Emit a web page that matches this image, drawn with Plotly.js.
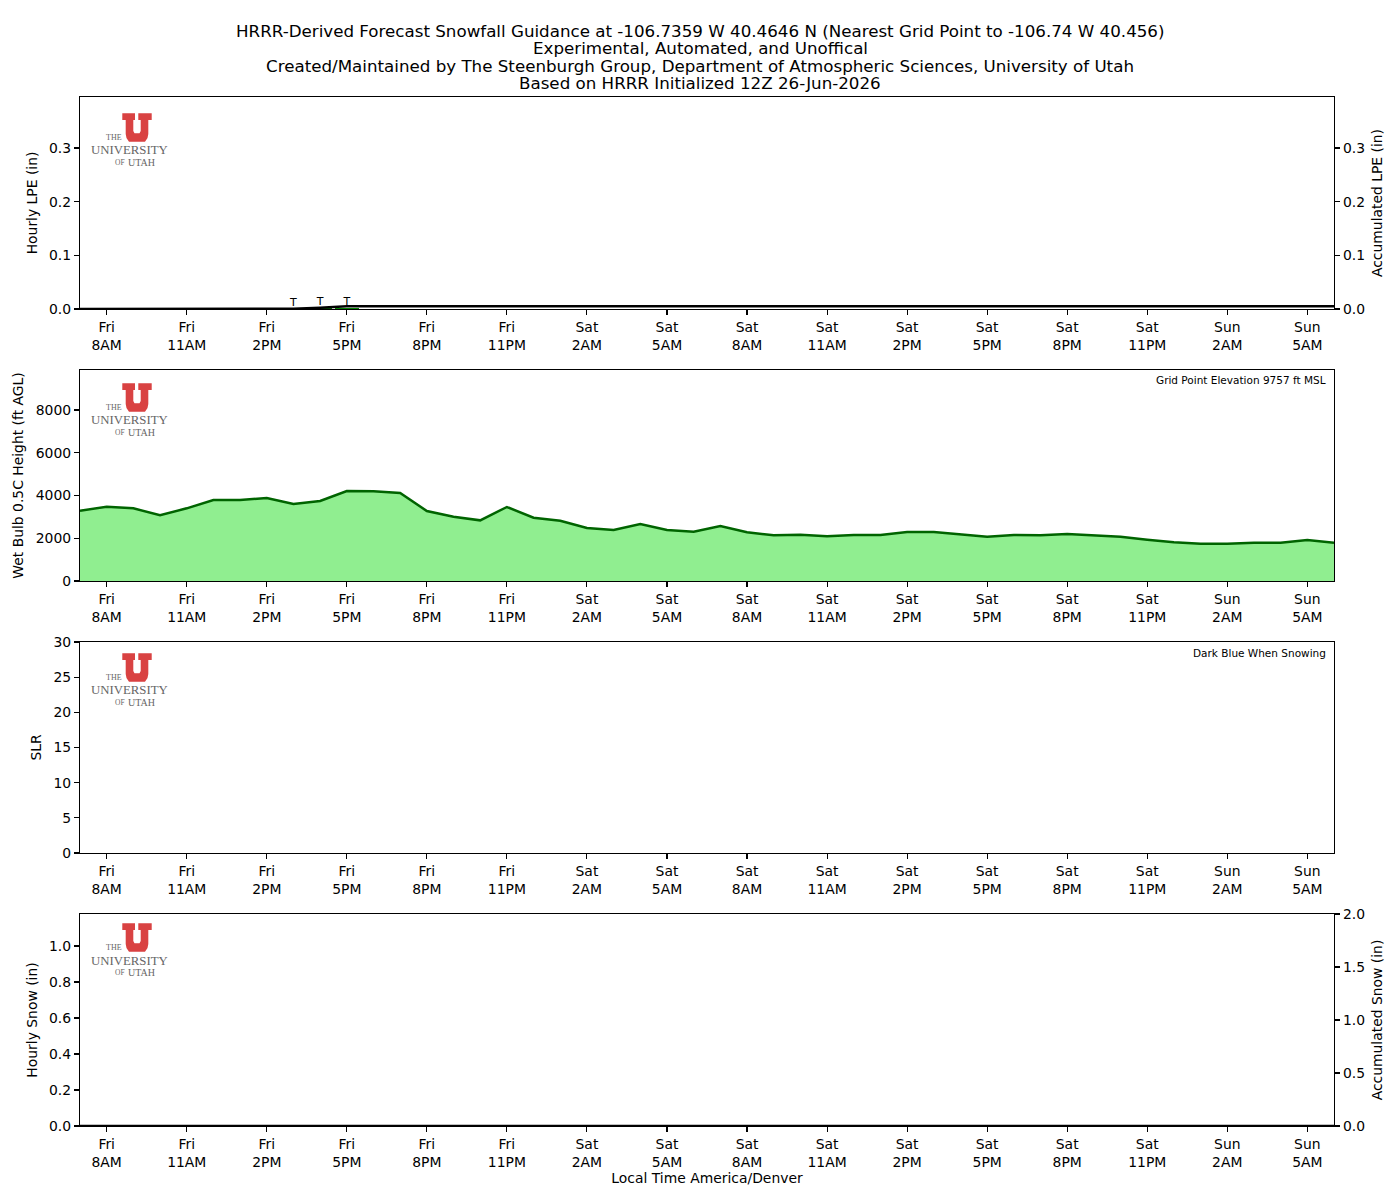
<!DOCTYPE html>
<html>
<head>
<meta charset="utf-8">
<script src="https://cdn.plot.ly/plotly-3.0.1.min.js"></script>
<style>html,body{margin:0;padding:0;background:#fff;}</style>
</head>
<body>
<div id="chart" style="width:1400px;height:1200px;"></div>
<script>
// ---------------- DATA ----------------
const startTime = '2026-06-26T07:00:00';
const nHours = 48;
const titleLines = [
  'HRRR-Derived Forecast Snowfall Guidance at -106.7359 W 40.4646 N (Nearest Grid Point to -106.74 W 40.456)',
  'Experimental, Automated, and Unoffical',
  'Created/Maintained by The Steenburgh Group, Department of Atmospheric Sciences, University of Utah',
  'Based on HRRR Initialized 12Z 26-Jun-2026'
];
const tickTimes = ['2026-06-26 08:00','2026-06-26 11:00','2026-06-26 14:00','2026-06-26 17:00','2026-06-26 20:00','2026-06-26 23:00',
  '2026-06-27 02:00','2026-06-27 05:00','2026-06-27 08:00','2026-06-27 11:00','2026-06-27 14:00','2026-06-27 17:00','2026-06-27 20:00','2026-06-27 23:00',
  '2026-06-28 02:00','2026-06-28 05:00'];
const tickLabels = ['Fri<br>8AM','Fri<br>11AM','Fri<br>2PM','Fri<br>5PM','Fri<br>8PM','Fri<br>11PM',
  'Sat<br>2AM','Sat<br>5AM','Sat<br>8AM','Sat<br>11AM','Sat<br>2PM','Sat<br>5PM','Sat<br>8PM','Sat<br>11PM',
  'Sun<br>2AM','Sun<br>5AM'];
// hourly liquid precip equivalent (in), 7AM Fri .. 6AM Sun
const hourlyLPE = [0,0,0,0,0,0,0,0,0.0005,0.002,0.0025,0,0,0,0,0,0,0,0,0,0,0,0,0,
                   0,0,0,0,0,0,0,0,0,0,0,0,0,0,0,0,0,0,0,0,0,0,0,0];
const accumLPE  = [0,0,0,0,0,0,0,0,0.0005,0.0025,0.005,0.005,0.005,0.005,0.005,0.005,0.005,0.005,0.005,0.005,0.005,0.005,0.005,0.005,
                   0.005,0.005,0.005,0.005,0.005,0.005,0.005,0.005,0.005,0.005,0.005,0.005,0.005,0.005,0.005,0.005,0.005,0.005,0.005,0.005,0.005,0.005,0.005,0.005];
const traceFlags = ['','','','','','','','','T','T','T','','','','','','','','','','','','','',
                    '','','','','','','','','','','','','','','','','','','','','','','',''];
// wet bulb 0.5C height (ft AGL)
const wetBulb = [3290,3478,3400,3072,3400,3790,3790,3883,3602,3743,4210,4195,4117,3275,3010,2838,3462,2963,2822,2480,2386,2667,2386,2308,
                 2573,2277,2136,2168,2090,2152,2152,2292,2292,2183,2074,2152,2136,2199,2121,2074,1934,1809,1747,1747,1794,1794,1918,1794];
// snow-to-liquid ratio: only plotted for snowing hours (none in this forecast)
const slrTimes = [];
const slrValues = [];
const hourlySnow = [0,0,0,0,0,0,0,0,0,0,0,0,0,0,0,0,0,0,0,0,0,0,0,0,
                    0,0,0,0,0,0,0,0,0,0,0,0,0,0,0,0,0,0,0,0,0,0,0,0];
const accumSnow  = [0,0,0,0,0,0,0,0,0,0,0,0,0,0,0,0,0,0,0,0,0,0,0,0,
                    0,0,0,0,0,0,0,0,0,0,0,0,0,0,0,0,0,0,0,0,0,0,0,0];
const elevationNote = 'Grid Point Elevation 9757 ft MSL';
const slrNote = 'Dark Blue When Snowing';

// ---------------- TIME AXIS ----------------
function fmt(d){const p=n=>String(n).padStart(2,'0');return d.getFullYear()+'-'+p(d.getMonth()+1)+'-'+p(d.getDate())+' '+p(d.getHours())+':00';}
const t0 = new Date(startTime);
const times = [];
for (let i=0;i<nHours;i++){ times.push(fmt(new Date(t0.getTime()+i*3600000))); }
const xRange = [times[0], times[nHours-1]];

// ---------------- GEOMETRY HELPERS ----------------
const L=80, R=1334, T=97, B=1126;
const px = x => (x-L)/(R-L);
const py = y => (B-y)/(B-T);
const FONT = 'DejaVu Sans, Arial, sans-serif';
const TF = 13.9;

const traces = [
  {type:'bar', x:times, y:hourlyLPE, xaxis:'x', yaxis:'y', marker:{color:'#008000'}, width:3600000*0.9, hoverinfo:'skip'},
  {type:'scatter', mode:'text', x:times, y:hourlyLPE, text:traceFlags, textposition:'top center', textfont:{family:FONT,size:11,color:'#000000'}, xaxis:'x', yaxis:'y', hoverinfo:'skip'},
  {type:'scatter', mode:'lines', x:times, y:accumLPE, xaxis:'x', yaxis:'y5', line:{color:'#000',width:2.5}},
  {type:'scatter', mode:'lines', x:times, y:wetBulb, xaxis:'x2', yaxis:'y2', fill:'tozeroy', fillcolor:'#90EE90', line:{color:'#006400',width:2.5}},
  {type:'scatter', mode:'markers', x:slrTimes, y:slrValues, xaxis:'x3', yaxis:'y3', marker:{color:'#00008b',size:6}},
  {type:'bar', x:times, y:hourlySnow, xaxis:'x4', yaxis:'y4', marker:{color:'#00008b'}, width:3600000*0.9},
  {type:'scatter', mode:'lines', x:times, y:accumSnow, xaxis:'x4', yaxis:'y6', line:{color:'#000',width:2.5}}
];

function xax(anchor, extra){
  return Object.assign({type:'date', domain:[0,1], anchor:anchor, range:xRange, tickmode:'array', tickvals:tickTimes, ticktext:tickLabels,
    showline:true, mirror:true, linecolor:'#000', linewidth:1.1, ticks:'outside', ticklen:5, tickwidth:1.1, tickcolor:'#000',
    showgrid:false, zeroline:false, tickfont:{family:FONT,size:TF,color:'#000'}}, extra||{});
}
function yax(dom, rng, dtick, titleText, extra){
  return Object.assign({domain:dom, range:rng, dtick:dtick, tick0:0, tickmode:'linear', showline:true, mirror:true, linecolor:'#000', linewidth:1.1,
    ticks:'outside', ticklen:5, tickwidth:1.1, tickcolor:'#000', showgrid:false, zeroline:false,
    tickfont:{family:FONT,size:TF,color:'#000'}, title:{text:titleText, font:{family:FONT,size:TF,color:'#000'}, standoff:8}}, extra||{});
}

const d1=[py(309),py(97)], d2=[py(581),py(370)], d3=[py(853),py(642)], d4=[py(1126),py(914)];

const annotations = [];
const ty = [30.8,48,65.8,83];
titleLines.forEach((s,i)=>annotations.push({xref:'paper',yref:'paper',x:px(700),y:py(ty[i]),xanchor:'center',yanchor:'middle',showarrow:false,borderpad:0,text:s,font:{family:FONT,size:16.7,color:'#000'}}));
annotations.push({xref:'paper',yref:'paper',x:px(1328),y:py(380),xanchor:'right',yanchor:'middle',showarrow:false,text:elevationNote,font:{family:FONT,size:10.5,color:'#000'}});
annotations.push({xref:'paper',yref:'paper',x:px(1328),y:py(653),xanchor:'right',yanchor:'middle',showarrow:false,text:slrNote,font:{family:FONT,size:10.5,color:'#000'}});

// University of Utah logo (drawn) in each panel
const shapes = [];
const logoOffsets = [0,270,540,810];
const uPts = [[122.3,113.3],[135,113.3],[135,120],[133.3,120],[133.3,131],[134.5,133.3],[139.5,133.3],[140.7,131],[140.7,120],[138.3,120],[138.3,113.3],
  [151.7,113.3],[151.7,120],[148.3,120],[148.3,134],[147.5,138],[145,141.7],[129,141.7],[126.5,138],[125.7,134],[125.7,120],[122.3,120]];
const serif = 'Liberation Serif, DejaVu Serif, serif';
logoOffsets.forEach(off=>{
  const path = 'M ' + uPts.map(p=>px(p[0]).toFixed(5)+','+py(p[1]+off).toFixed(5)).join(' L ') + ' Z';
  shapes.push({type:'path', xref:'paper', yref:'paper', path:path, fillcolor:'#d94242', line:{width:0}, layer:'above'});
  annotations.push({xref:'paper',yref:'paper',x:px(113.5),y:py(137.8+off),xanchor:'center',yanchor:'middle',showarrow:false,text:'THE',font:{family:serif,size:8,color:'#666'}});
  annotations.push({xref:'paper',yref:'paper',x:px(129.5),y:py(150.5+off),xanchor:'center',yanchor:'middle',showarrow:false,text:'UNIVERSITY',font:{family:serif,size:12.8,color:'#666'}});
  annotations.push({xref:'paper',yref:'paper',x:px(119.5),y:py(162.3+off),xanchor:'center',yanchor:'middle',showarrow:false,text:'OF',font:{family:serif,size:7.5,color:'#666'}});
  annotations.push({xref:'paper',yref:'paper',x:px(141.5),y:py(162.5+off),xanchor:'center',yanchor:'middle',showarrow:false,text:'UTAH',font:{family:serif,size:10,color:'#666'}});
});

const layout = {
  width:1400, height:1200,
  margin:{l:L, r:1400-R, t:T, b:1200-B, pad:0},
  paper_bgcolor:'#fff', plot_bgcolor:'rgba(0,0,0,0)',
  showlegend:false, bargap:0,
  font:{family:FONT, size:TF, color:'#000'},
  xaxis: xax('y'),
  xaxis2: xax('y2'),
  xaxis3: xax('y3'),
  xaxis4: xax('y4', {title:{text:'Local Time America/Denver', font:{family:FONT,size:TF,color:'#000'}, standoff:4}}),
  yaxis: yax(d1,[0,0.395],0.1,'Hourly LPE (in)',{anchor:'x', tickformat:'.1f'}),
  yaxis5: yax(d1,[0,0.395],0.1,'Accumulated LPE (in)',{overlaying:'y', side:'right', anchor:'x', tickformat:'.1f', mirror:false}),
  yaxis2: yax(d2,[0,9871],2000,'Wet Bulb 0.5C Height (ft AGL)',{anchor:'x2', tickformat:'d'}),
  yaxis3: yax(d3,[0,30],5,'SLR',{anchor:'x3', tickformat:'d'}),
  yaxis4: yax(d4,[0,1.178],0.2,'Hourly Snow (in)',{anchor:'x4', tickformat:'.1f'}),
  yaxis6: yax(d4,[0,2],0.5,'Accumulated Snow (in)',{overlaying:'y4', side:'right', anchor:'x4', tickformat:'.1f', mirror:false}),
  annotations: annotations,
  shapes: shapes
};

Plotly.newPlot('chart', traces, layout, {staticPlot:true, displayModeBar:false});
</script>
</body>
</html>
